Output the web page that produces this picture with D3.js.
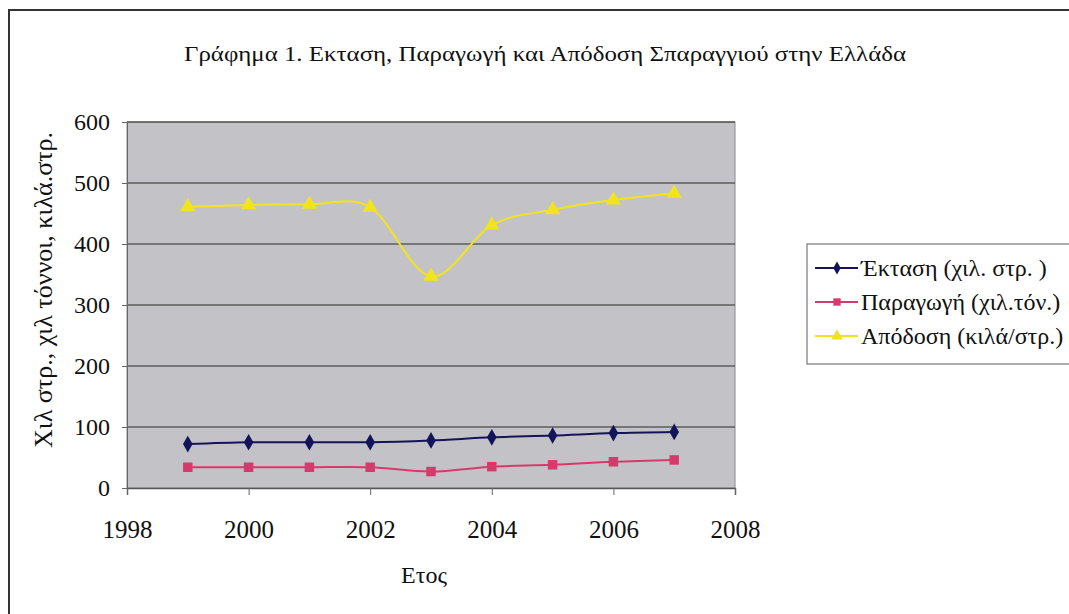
<!DOCTYPE html>
<html>
<head>
<meta charset="utf-8">
<script src="https://cdn.jsdelivr.net/npm/d3@7"></script>
<style>
  body { margin: 0; background: #fff; }
</style>
</head>
<body>
<script>
// data
const years = [1999, 2000, 2001, 2002, 2003, 2004, 2005, 2006, 2007];
const ektasi = [72, 75, 75, 75, 78, 83, 86, 90, 92];
const paragogi = [34, 34, 34, 34, 27, 35, 38, 43, 46];
const apodosi = [461, 464, 465, 460, 347, 431, 456, 472, 483];
const seriesNames = ['Έκταση (χιλ. στρ. )', 'Παραγωγή  (χιλ.τόν.)', 'Απόδοση (κιλά/στρ.)'];
const xTicks = [1998, 2000, 2002, 2004, 2006, 2008];
const yTicks = [0, 100, 200, 300, 400, 500, 600];

const FONT = '"Liberation Serif", "Times New Roman", serif';
const W = 1069, H = 614;
const margin = { left: 127, top: 122, right: 334, bottom: 126 };
const pw = W - margin.left - margin.right;
const ph = H - margin.top - margin.bottom;

const svg = d3.select('body').append('svg')
    .attr('width', W)
    .attr('height', H)
    .style('font-family', FONT);

// outer frame (top + left visible)
svg.append('path')
    .attr('d', `M9,${H} L9,10 L${W},10`)
    .attr('fill', 'none')
    .attr('stroke', '#333')
    .attr('stroke-width', 2);

// title
svg.append('text')
    .attr('x', 545)
    .attr('y', 61)
    .attr('text-anchor', 'middle')
    .attr('font-size', 22)
    .attr('textLength', 722)
    .attr('lengthAdjust', 'spacingAndGlyphs')
    .style('font-family', FONT)
    .attr('fill', '#111')
    .text('Γράφημα 1. Εκταση, Παραγωγή και Απόδοση Σπαραγγιού στην Ελλάδα');

const g = svg.append('g').attr('transform', `translate(${margin.left},${margin.top})`);

const x = d3.scaleLinear().domain([1998, 2008]).range([0, pw]);
const y = d3.scaleLinear().domain([0, 600]).range([ph, 0]);

// plot area
g.append('rect')
    .attr('width', pw)
    .attr('height', ph)
    .attr('fill', '#c3c3c7')
    .attr('stroke', '#8a8a8e');

// gridlines
g.selectAll('.grid')
    .data(yTicks.filter(d => d > 0))
    .enter()
    .append('line')
    .attr('x1', 0)
    .attr('x2', pw)
    .attr('y1', d => y(d))
    .attr('y2', d => y(d))
    .attr('stroke', '#2a2a2a')
    .attr('stroke-width', 1.2);

// axes
const yAxis = d3.axisLeft(y).tickValues(yTicks).tickSize(5).tickPadding(12);
const xAxis = d3.axisBottom(x).tickValues(xTicks).tickFormat(d3.format('d')).tickSize(7).tickPadding(25);

g.append('g')
    .call(yAxis)
    .call(a => a.select('.domain').attr('stroke', '#666'))
    .call(a => a.selectAll('line').attr('stroke', '#666'))
    .call(a => a.selectAll('text').attr('font-size', 24).style('font-family', FONT).attr('fill', '#111'));

g.append('g')
    .attr('transform', `translate(0,${ph})`)
    .call(xAxis)
    .call(a => a.select('.domain').attr('stroke', '#555').attr('stroke-width', 1.5))
    .call(a => a.selectAll('line').attr('stroke', '#666'))
    .call(a => a.selectAll('text').attr('font-size', 25).style('font-family', FONT).attr('fill', '#111'));

// axis titles
svg.append('text')
    .attr('transform', 'translate(52,290) rotate(-90)')
    .attr('text-anchor', 'middle')
    .attr('font-size', 26)
    .style('font-family', FONT)
    .attr('fill', '#111')
    .text('Χιλ στρ., χιλ τόννοι, κιλά.στρ.');

svg.append('text')
    .attr('x', 424)
    .attr('y', 583)
    .attr('text-anchor', 'middle')
    .attr('font-size', 24)
    .style('font-family', FONT)
    .attr('fill', '#111')
    .text('Ετος');

// series
const series = [
    { name: seriesNames[0], values: ektasi, color: '#14145a', marker: d3.symbolDiamond, size: 80 },
    { name: seriesNames[1], values: paragogi, color: '#d63a6c', marker: d3.symbolSquare, size: 90 },
    { name: seriesNames[2], values: apodosi, color: '#f2e41c', marker: d3.symbolTriangle, size: 100 }
];

const line = d3.line()
    .x((d, i) => x(years[i]))
    .y(d => y(d))
    .curve(d3.curveCatmullRom.alpha(0));

series.forEach(s => {
    g.append('path')
        .datum(s.values)
        .attr('d', line)
        .attr('fill', 'none')
        .attr('stroke', s.color)
        .attr('stroke-width', 2);
    g.selectAll(null)
        .data(s.values)
        .enter()
        .append('path')
        .attr('d', d3.symbol().type(s.marker).size(s.size))
        .attr('transform', (d, i) => `translate(${x(years[i])},${y(d)})`)
        .attr('fill', s.color);
});

// legend
const lg = svg.append('g').attr('transform', 'translate(807,244)');
lg.append('rect')
    .attr('width', 270)
    .attr('height', 120)
    .attr('fill', '#fff')
    .attr('stroke', '#777')
    .attr('stroke-width', 1.2);

series.forEach((s, i) => {
    const yy = 24 + i * 34;
    lg.append('line')
        .attr('x1', 8).attr('x2', 51)
        .attr('y1', yy).attr('y2', yy)
        .attr('stroke', s.color)
        .attr('stroke-width', 2);
    lg.append('path')
        .attr('d', d3.symbol().type(s.marker).size(s.size * 0.6))
        .attr('transform', `translate(30,${yy})`)
        .attr('fill', s.color);
    lg.append('text')
        .attr('x', 54)
        .attr('y', yy + 8)
        .attr('font-size', 24)
        .style('font-family', FONT)
        .attr('fill', '#111')
        .text(s.name);
});
</script>
</body>
</html>
